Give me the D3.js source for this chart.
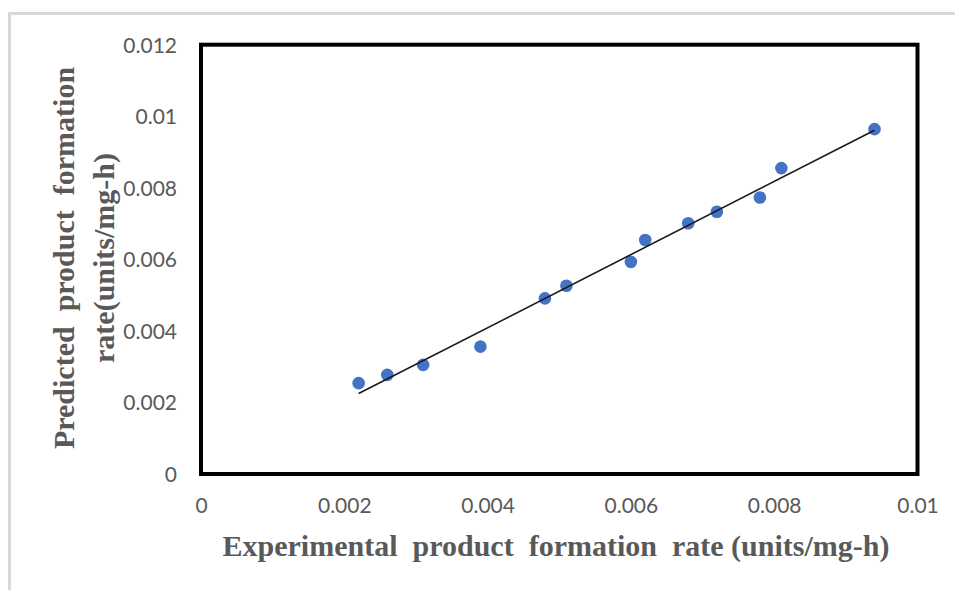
<!DOCTYPE html>
<html>
<head>
<meta charset="utf-8">
<script src="https://cdn.jsdelivr.net/npm/d3@7"></script>
<style>
  body { margin: 0; background: #fff; }
  svg { display: block; }
</style>
</head>
<body>
<svg width="955" height="590"></svg>
<script>
// values
var experimental = [0.0022, 0.0026, 0.0031, 0.0039, 0.0048, 0.0051, 0.0060, 0.0062, 0.0068, 0.0072, 0.0078, 0.0081, 0.0094];
var predicted    = [0.00254, 0.00277, 0.00305, 0.00356, 0.00491, 0.00526, 0.00593, 0.00654, 0.00701, 0.00733, 0.00773, 0.00855, 0.00964];
var xTicks = [0, 0.002, 0.004, 0.006, 0.008, 0.01];
var yTicks = [0, 0.002, 0.004, 0.006, 0.008, 0.01, 0.012];
var xTitle = "Experimental\u00a0 product\u00a0 formation\u00a0 rate (units/mg-h)";
var yTitle1 = "Predicted\u00a0 product\u00a0 formation";
var yTitle2 = "rate(units/mg-h)";

var data = experimental.map((d, i) => ({x: d, y: predicted[i]}));

var svg = d3.select('svg');

// light grey frame round the chart area
svg.append('rect')
  .attr('x', 9.5).attr('y', 13.5)
  .attr('width', 1000).attr('height', 1000)
  .attr('fill', 'none')
  .attr('stroke', '#d9d9d9')
  .attr('stroke-width', 3);

var box = {left: 201, right: 917.5, top: 44.7, bottom: 474};

var x = d3.scaleLinear().domain([0, 0.01]).range([box.left, box.right]);
var y = d3.scaleLinear().domain([0, 0.012]).range([box.bottom, box.top]);

var fmt = d => d === 0 ? '0' : String(+d.toFixed(4));

// axes without lines or tick marks, just labels
var xAxis = svg.append('g')
  .attr('transform', 'translate(0,' + (box.bottom + 21) + ')')
  .call(d3.axisBottom(x).tickValues(xTicks).tickFormat(fmt).tickSize(0));
var yAxis = svg.append('g')
  .attr('transform', 'translate(' + (box.left - 24) + ',0)')
  .call(d3.axisLeft(y).tickValues(yTicks).tickFormat(fmt).tickSize(0));

[xAxis, yAxis].forEach(function(g){
  g.select('.domain').remove();
  g.selectAll('text')
    .attr('font-family', 'Lato, "Open Sans", sans-serif')
    .attr('font-size', 21)
    .attr('fill', '#595959');
});
yAxis.selectAll('text').attr('x', 0).attr('dy', '0.35em');

// plot box
svg.append('rect')
  .attr('x', box.left).attr('y', box.top)
  .attr('width', box.right - box.left)
  .attr('height', box.bottom - box.top)
  .attr('fill', 'none')
  .attr('stroke', '#000')
  .attr('stroke-width', 4);

// linear trendline by least squares
var mx = d3.mean(data, d => d.x), my = d3.mean(data, d => d.y);
var slope = d3.sum(data, d => (d.x - mx) * (d.y - my)) / d3.sum(data, d => (d.x - mx) * (d.x - mx));
var icpt = my - slope * mx;
var ext = d3.extent(experimental);
var trend = ext.map(v => ({x: v, y: icpt + slope * v}));

svg.selectAll('circle')
  .data(data)
  .join('circle')
  .attr('cx', d => x(d.x))
  .attr('cy', d => y(d.y))
  .attr('r', 6.3)
  .attr('fill', '#4472c4');

svg.append('path')
  .datum(trend)
  .attr('d', d3.line().x(d => x(d.x)).y(d => y(d.y)))
  .attr('stroke', '#1a1a1a')
  .attr('stroke-width', 1.6)
  .attr('fill', 'none');

// titles
var titleFont = '"Liberation Serif", "Times New Roman", serif';
svg.append('text')
  .attr('x', 556).attr('y', 556)
  .attr('text-anchor', 'middle')
  .attr('font-family', titleFont)
  .attr('font-weight', 'bold')
  .attr('font-size', 30)
  .attr('fill', '#595959')
  .text(xTitle);

var yt = svg.append('g').attr('transform', 'translate(0,258) rotate(-90)');
yt.append('text')
  .attr('x', 0).attr('y', 74)
  .attr('text-anchor', 'middle')
  .attr('font-family', titleFont)
  .attr('font-weight', 'bold')
  .attr('font-size', 30)
  .attr('fill', '#595959')
  .text(yTitle1);
yt.append('text')
  .attr('x', 0).attr('y', 114)
  .attr('text-anchor', 'middle')
  .attr('font-family', titleFont)
  .attr('font-weight', 'bold')
  .attr('font-size', 30)
  .attr('fill', '#595959')
  .text(yTitle2);
</script>
</body>
</html>
